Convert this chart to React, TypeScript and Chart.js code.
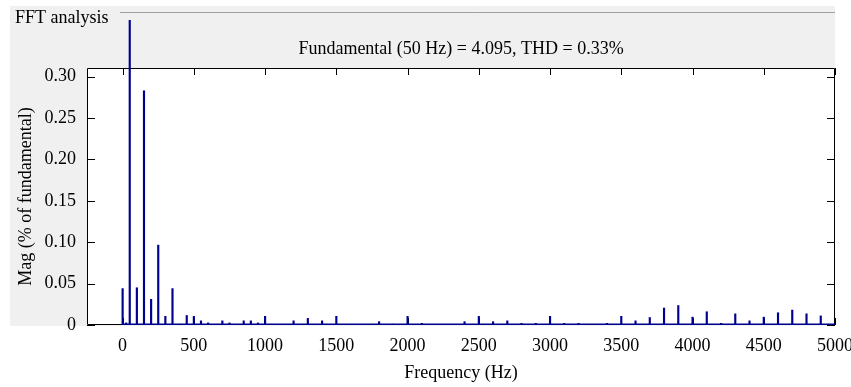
import React, { useEffect, useRef } from "react";
import { Chart, registerables } from "chart.js";

Chart.register(...registerables);

// Harmonic frequencies (Hz) and magnitudes (% of fundamental)
const freqs = [0, 25, 50, 100, 150, 200, 250, 300, 350, 400, 450, 500, 550, 600, 700, 750, 850, 900, 950, 1000, 1200, 1300, 1400, 1500, 1800, 1900, 2000, 2100, 2400, 2500, 2600, 2700, 2800, 2900, 3000, 3100, 3200, 3400, 3500, 3600, 3700, 3800, 3900, 4000, 4100, 4200, 4300, 4400, 4500, 4600, 4700, 4800, 4900];
const mags = [0.044, 0.0025, 100, 0.045, 0.283, 0.031, 0.0965, 0.0105, 0.044, 0.001, 0.0115, 0.0105, 0.005, 0.0025, 0.005, 0.0025, 0.005, 0.005, 0.0025, 0.0105, 0.005, 0.008, 0.005, 0.0105, 0.004, 0.001, 0.0105, 0.002, 0.004, 0.0105, 0.004, 0.005, 0.002, 0.002, 0.0105, 0.002, 0.002, 0.002, 0.0105, 0.005, 0.009, 0.0205, 0.0235, 0.0095, 0.016, 0.002, 0.0135, 0.005, 0.0095, 0.0148, 0.018, 0.0135, 0.011];

// Floor of the many tiny bins along the baseline
const floorFreqs = [0, 5000];
const floorMags = [0.0006, 0.0006];

const xTicks = [0, 500, 1000, 1500, 2000, 2500, 3000, 3500, 4000, 4500, 5000];
const yTicks = [0, 0.05, 0.1, 0.15, 0.2, 0.25, 0.3];

const panelTitle = "FFT analysis";
const chartTitle = "Fundamental (50 Hz) = 4.095, THD = 0.33%";
const xLabel = "Frequency (Hz)";
const yLabel = "Mag (% of fundamental)";

const FONT = '"Liberation Serif", "Times New Roman", serif';
const BAR = "#000090";

const panelPlugin = {
  id: "panelPlugin",
  beforeDraw(chart: any) {
    const { ctx, chartArea: a } = chart;
    ctx.save();
    ctx.fillStyle = "#ffffff";
    ctx.fillRect(0, 0, chart.width, chart.height);
    ctx.fillStyle = "#f0f0f0";
    ctx.fillRect(10, 6, a.right - 10, a.bottom + 1 - 6);
    ctx.fillStyle = "#ffffff";
    ctx.fillRect(a.left, a.top, a.right - a.left, a.bottom - a.top);
    ctx.strokeStyle = "#a0a0a0";
    ctx.lineWidth = 1;
    ctx.beginPath();
    ctx.moveTo(120, 12.5);
    ctx.lineTo(a.right, 12.5);
    ctx.stroke();
    ctx.fillStyle = "#000";
    ctx.font = `18px ${FONT}`;
    ctx.textBaseline = "alphabetic";
    ctx.textAlign = "left";
    ctx.fillText(panelTitle, 15, 23);
    ctx.textAlign = "center";
    ctx.fillText(chartTitle, (a.left + a.right) / 2, 54);
    ctx.restore();
  },
  beforeDatasetsDraw(chart: any) {
    const { ctx, chartArea: a, scales } = chart;
    const xs = scales.x;
    const ys = scales.y;
    ctx.save();
    ctx.strokeStyle = "#000";
    ctx.lineWidth = 1;
    ctx.beginPath();
    ctx.rect(a.left + 0.5, a.top + 0.5, a.right - a.left - 1, a.bottom - a.top - 1);
    const tl = 7;
    for (const v of xTicks) {
      const px = Math.round(xs.getPixelForValue(v)) + 0.5;
      ctx.moveTo(px, a.top);
      ctx.lineTo(px, a.top + tl);
      ctx.moveTo(px, a.bottom);
      ctx.lineTo(px, a.bottom - tl);
    }
    for (const v of yTicks) {
      const py = Math.round(ys.getPixelForValue(v)) + 0.5;
      ctx.moveTo(a.left, py);
      ctx.lineTo(a.left + 8, py);
      ctx.moveTo(a.right, py);
      ctx.lineTo(a.right - 8, py);
    }
    ctx.stroke();
    ctx.restore();
  },
};

export default function App() {
  const ref = useRef<HTMLCanvasElement | null>(null);

  useEffect(() => {
    if (!ref.current) return;
    const chart = new Chart(ref.current, {
      type: "bar",
      data: {
        datasets: [
          {
            type: "line",
            data: floorFreqs.map((f, i) => ({ x: f, y: floorMags[i] })),
            borderColor: BAR,
            borderWidth: 2,
            pointRadius: 0,
            order: 2,
          } as any,
          {
            type: "bar",
            data: freqs.map((f, i) => ({ x: f, y: mags[i] })),
            backgroundColor: BAR,
            borderWidth: 0,
            barThickness: 1.5,
            clip: { left: 0, top: 48, right: 0, bottom: 0 },
            order: 1,
          } as any,
        ],
      },
      options: {
        animation: false,
        responsive: false,
        devicePixelRatio: 1,
        layout: { padding: { left: 0, right: 16, top: 68, bottom: 0 } },
        plugins: {
          legend: { display: false },
          tooltip: { enabled: false },
          title: { display: false },
        },
        scales: {
          x: {
            type: "linear",
            min: -250,
            max: 5000,
            offset: false,
            grid: { display: false, drawTicks: false },
            border: { display: false },
            afterBuildTicks: (s: any) => {
              s.ticks = xTicks.map((v) => ({ value: v }));
            },
            afterFit: (s: any) => {
              s.height = 62;
              s.paddingLeft = 0;
              s.paddingRight = 0;
            },
            ticks: {
              autoSkip: false,
              maxRotation: 0,
              padding: 10,
              color: "#000",
              font: { family: FONT, size: 18 },
              callback: (v: any) => String(v),
            },
            title: {
              display: true,
              text: xLabel,
              color: "#000",
              font: { family: FONT, size: 18 },
              padding: { top: 0, bottom: 3 },
            },
          },
          y: {
            type: "linear",
            min: 0,
            max: 0.3105,
            grid: { display: false, drawTicks: false },
            border: { display: false },
            afterBuildTicks: (s: any) => {
              s.ticks = yTicks.map((v) => ({ value: v }));
            },
            afterFit: (s: any) => {
              s.width = 87;
              s.paddingTop = 0;
              s.paddingBottom = 0;
            },
            ticks: {
              padding: 11,
              color: "#000",
              font: { family: FONT, size: 18 },
              callback: (v: any) => (Number(v) === 0 ? "0" : Number(v).toFixed(2)),
            },
            title: {
              display: true,
              text: yLabel,
              color: "#000",
              font: { family: FONT, size: 18 },
              padding: { top: 15, bottom: 0 },
            },
          },
        },
      },
      plugins: [panelPlugin],
    });
    return () => chart.destroy();
  }, []);

  return (
    <div style={{ position: "absolute", left: 0, top: 0, width: 851, height: 387 }}>
      <canvas
        ref={ref}
        width={851}
        height={387}
        style={{ display: "block", width: "851px", height: "387px" }}
      />
    </div>
  );
}
